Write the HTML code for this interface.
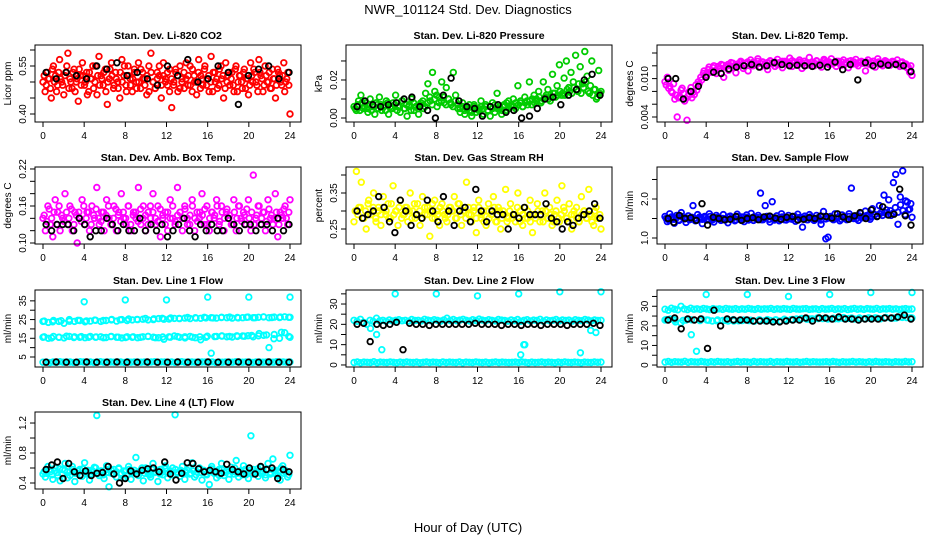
<!DOCTYPE html>
<html><head><meta charset="utf-8"><style>
body{margin:0;background:#fff;}
svg{display:block;font-family:"Liberation Sans",Arial,sans-serif;}
</style></head><body>
<svg id="c" width="936" height="540" viewBox="0 0 936 540">
<text x="468" y="14" text-anchor="middle" font-size="13">NWR_101124  Std. Dev. Diagnostics</text>
<text x="468" y="532" text-anchor="middle" font-size="13">Hour of Day (UTC)</text>
</svg>
<script>
// ---- data ----
const hourTicks = [0,4,8,12,16,20,24];
const co2Vals = [0.50,0.47,0.53,0.51,0.45,0.55,0.52,0.49,0.57,0.50,0.46,0.53,0.59,0.51,0.48,0.54,0.50,0.44,0.52,0.56,0.49,0.53,0.47,0.51,0.55,0.50,0.46,0.58,0.52,0.49,0.54,0.43,0.51,0.56,0.48,0.53,0.50,0.45,0.57,0.52,0.49,0.55,0.51,0.47,0.54,0.50,0.56,0.48,0.53,0.51,0.46,0.55,0.59,0.50,0.48,0.53,0.52,0.45,0.56,0.51,0.49,0.54,0.42,0.50,0.53,0.47,0.55,0.51,0.48,0.56,0.52,0.49,0.54,0.50,0.46,0.57,0.52,0.49,0.55,0.51,0.47,0.58,0.53,0.50,0.48,0.54,0.51,0.45,0.56,0.52,0.49,0.53,0.47,0.55,0.50,0.52,0.48,0.54,0.51,0.46,0.56,0.50,0.53,0.49,0.57,0.52,0.47,0.55,0.50,0.53,0.48,0.51,0.45,0.54,0.52,0.49,0.56,0.50,0.53,0.40];
const co2ValsB = [0.52,0.49,0.51,0.48,0.54,0.50,0.47,0.53,0.51,0.49,0.52,0.55,0.48,0.50,0.53,0.47,0.51,0.54,0.49,0.52,0.50,0.46,0.53,0.51,0.48,0.55,0.52,0.49,0.51,0.53,0.47,0.50,0.54,0.52,0.49,0.51,0.48,0.53,0.50,0.55,0.47,0.52,0.49,0.51,0.53,0.48,0.50,0.54,0.51,0.49,0.52,0.47,0.53,0.50,0.48,0.51,0.55,0.49,0.52,0.50,0.53,0.47,0.51,0.49,0.54,0.52,0.48,0.50,0.53,0.51,0.49,0.55,0.47,0.52,0.50,0.53,0.48,0.51,0.54,0.49,0.52,0.50,0.47,0.53,0.51,0.49,0.55,0.52,0.48,0.50,0.53,0.51,0.49,0.54,0.47,0.52,0.50,0.53,0.48,0.51,0.49,0.52,0.54,0.50,0.47,0.53,0.51,0.49,0.52,0.50,0.48,0.54,0.51,0.49,0.53,0.50,0.52,0.47,0.51,0.49];
const co2Black = [0.53,0.51,0.53,0.52,0.51,0.55,0.54,0.56,0.52,0.53,0.51,0.49,0.55,0.52,0.57,0.50,0.51,0.55,0.53,0.43,0.52,0.54,0.55,0.51,0.53];
const presVals = [0.006,0.004,0.009,0.012,0.005,0.008,0.003,0.010,0.006,0.002,0.007,0.011,0.004,0.006,0.009,0.002,0.005,0.008,0.012,0.006,0.003,0.009,0.005,0.001,0.007,0.010,0.004,0.006,0.002,0.008,0.005,0.013,0.018,0.009,0.024,0.014,0.006,0.011,0.019,0.008,0.016,0.010,0.007,0.024,0.012,0.005,0.003,0.008,0.002,0.006,0.004,0.001,0.007,0.003,0.005,0.009,0.002,0.006,0.004,0.001,0.008,0.003,0.013,0.005,0.002,0.007,0.004,0.009,0.006,0.010,0.005,0.017,0.008,0.006,0.011,0.009,0.019,0.007,0.012,0.010,0.014,0.008,0.019,0.011,0.015,0.009,0.023,0.013,0.017,0.028,0.012,0.021,0.030,0.016,0.024,0.019,0.033,0.014,0.027,0.018,0.035,0.022,0.013,0.030,0.015,0.010,0.025,0.014];
const presValsB = [0.005,0.007,0.004,0.008,0.006,0.005,0.007,0.004,0.006,0.008,0.005,0.007,0.006,0.004,0.008,0.006,0.005,0.007,0.004,0.006,0.009,0.005,0.007,0.006,0.004,0.008,0.006,0.005,0.007,0.009,0.006,0.008,0.011,0.007,0.010,0.012,0.008,0.009,0.011,0.007,0.010,0.008,0.006,0.009,0.007,0.005,0.006,0.004,0.005,0.007,0.003,0.006,0.005,0.004,0.006,0.005,0.007,0.004,0.006,0.005,0.007,0.005,0.006,0.004,0.006,0.008,0.005,0.007,0.006,0.008,0.007,0.009,0.006,0.008,0.007,0.009,0.010,0.008,0.009,0.011,0.009,0.010,0.012,0.010,0.011,0.013,0.011,0.012,0.014,0.013,0.012,0.015,0.014,0.013,0.016,0.015,0.018,0.013,0.016,0.019,0.014,0.017,0.012,0.015,0.011,0.013];
const presBlack = [0.006,0.009,0.007,0.006,0.007,0.008,0.010,0.011,0.006,0.004,0.000,0.012,0.021,0.009,0.006,0.005,0.001,0.006,0.007,0.003,0.004,0.000,0.001,0.005,0.010,0.011,0.007,0.012,0.015,0.020,0.023,0.012];
const tempVals = [0.0095,0.0102,0.0088,0.0078,0.0068,0.0040,0.0072,0.0085,0.0065,0.0035,0.0080,0.0070,0.0075,0.0082,0.0092,0.0098,0.0112,0.0105,0.0118,0.0110,0.0120,0.0108,0.0115,0.0122,0.0102,0.0119,0.0113,0.0125,0.0117,0.0109,0.0121,0.0127,0.0116,0.0123,0.0112,0.0129,0.0120,0.0124,0.0131,0.0118,0.0126,0.0121,0.0114,0.0128,0.0123,0.0119,0.0130,0.0125,0.0117,0.0127,0.0122,0.0132,0.0119,0.0126,0.0124,0.0129,0.0116,0.0127,0.0121,0.0133,0.0125,0.0120,0.0128,0.0123,0.0118,0.0130,0.0126,0.0122,0.0131,0.0124,0.0119,0.0127,0.0121,0.0129,0.0125,0.0117,0.0128,0.0123,0.0130,0.0120,0.0126,0.0124,0.0112,0.0129,0.0122,0.0127,0.0118,0.0131,0.0124,0.0120,0.0128,0.0125,0.0121,0.0127,0.0123,0.0129,0.0119,0.0126,0.0122,0.0117,0.0110,0.0105];
const tempValsB = [0.0090,0.0085,0.0080,0.0092,0.0074,0.0070,0.0082,0.0077,0.0069,0.0073,0.0086,0.0079,0.0090,0.0095,0.0102,0.0108,0.0106,0.0114,0.0111,0.0117,0.0113,0.0119,0.0116,0.0121,0.0118,0.0122,0.0120,0.0124,0.0121,0.0123,0.0125,0.0122,0.0124,0.0126,0.0123,0.0125,0.0122,0.0127,0.0124,0.0126,0.0123,0.0125,0.0127,0.0124,0.0126,0.0122,0.0125,0.0127,0.0124,0.0126,0.0123,0.0128,0.0125,0.0123,0.0126,0.0124,0.0127,0.0125,0.0122,0.0126,0.0124,0.0127,0.0123,0.0125,0.0128,0.0124,0.0126,0.0123,0.0125,0.0127,0.0124,0.0126,0.0122,0.0125,0.0127,0.0124,0.0126,0.0123,0.0125,0.0127,0.0124,0.0126,0.0123,0.0125,0.0127,0.0124,0.0126,0.0122,0.0125,0.0127,0.0124,0.0123,0.0126,0.0124,0.0122,0.0125,0.0121,0.0123,0.0118,0.0120];
const tempBlack = [0.0100,0.0100,0.0068,0.0080,0.0088,0.0102,0.0110,0.0108,0.0115,0.0118,0.0120,0.0122,0.0118,0.0120,0.0125,0.0122,0.0120,0.0121,0.0120,0.0119,0.0121,0.0118,0.0126,0.0114,0.0122,0.0098,0.0125,0.0120,0.0123,0.0121,0.0122,0.0120,0.0111];
const ambVals = [0.14,0.12,0.16,0.13,0.11,0.17,0.15,0.12,0.14,0.18,0.13,0.16,0.12,0.15,0.10,0.14,0.17,0.13,0.15,0.12,0.16,0.14,0.19,0.13,0.15,0.12,0.17,0.14,0.13,0.16,0.12,0.15,0.18,0.14,0.13,0.16,0.12,0.15,0.14,0.19,0.13,0.16,0.12,0.15,0.14,0.18,0.13,0.16,0.11,0.14,0.15,0.12,0.17,0.14,0.13,0.19,0.15,0.12,0.16,0.14,0.13,0.17,0.12,0.15,0.14,0.18,0.13,0.16,0.12,0.15,0.14,0.17,0.13,0.16,0.12,0.15,0.14,0.13,0.17,0.12,0.16,0.14,0.15,0.13,0.17,0.12,0.21,0.14,0.16,0.13,0.15,0.12,0.17,0.14,0.13,0.18,0.11,0.15,0.14,0.16,0.13,0.17];
const ambValsB = [0.145,0.135,0.155,0.14,0.15,0.13,0.16,0.145,0.135,0.15,0.14,0.155,0.13,0.145,0.15,0.135,0.16,0.14,0.15,0.13,0.145,0.155,0.14,0.135,0.15,0.145,0.16,0.13,0.14,0.155,0.145,0.135,0.15,0.14,0.16,0.13,0.145,0.15,0.135,0.155,0.14,0.145,0.13,0.16,0.15,0.14,0.135,0.155,0.145,0.13,0.15,0.14,0.16,0.135,0.145,0.15,0.14,0.155,0.13,0.145,0.16,0.14,0.135,0.15,0.145,0.155,0.13,0.14,0.15,0.145,0.16,0.135,0.15,0.14,0.155,0.145,0.13,0.15,0.14,0.16,0.135,0.145,0.155,0.14,0.15,0.13,0.145,0.16,0.14,0.15,0.135,0.155,0.145,0.14,0.15,0.13,0.145,0.155,0.14,0.15];
const ambBlack = [0.13,0.12,0.13,0.13,0.13,0.12,0.14,0.13,0.11,0.12,0.12,0.14,0.13,0.12,0.13,0.12,0.12,0.14,0.12,0.13,0.12,0.13,0.11,0.12,0.13,0.14,0.12,0.11,0.13,0.12,0.13,0.12,0.12,0.14,0.13,0.12,0.13,0.13,0.12,0.13,0.13,0.12,0.14,0.12,0.13];
const rhVals = [0.27,0.41,0.31,0.38,0.28,0.25,0.33,0.29,0.35,0.27,0.31,0.26,0.34,0.29,0.32,0.28,0.37,0.30,0.26,0.33,0.29,0.31,0.27,0.35,0.30,0.28,0.32,0.26,0.34,0.29,0.31,0.23,0.28,0.33,0.30,0.26,0.32,0.29,0.27,0.31,0.30,0.34,0.28,0.32,0.26,0.30,0.38,0.29,0.27,0.31,0.24,0.33,0.28,0.30,0.26,0.32,0.29,0.34,0.27,0.31,0.25,0.30,0.36,0.28,0.32,0.29,0.27,0.35,0.30,0.26,0.31,0.28,0.33,0.24,0.29,0.32,0.27,0.30,0.35,0.28,0.31,0.26,0.29,0.33,0.27,0.37,0.30,0.28,0.32,0.25,0.29,0.31,0.27,0.34,0.30,0.28,0.36,0.29,0.26,0.31,0.28,0.25];
const rhValsB = [0.30,0.29,0.31,0.28,0.30,0.32,0.29,0.31,0.28,0.30,0.29,0.31,0.30,0.28,0.32,0.29,0.30,0.31,0.28,0.29,0.31,0.30,0.28,0.32,0.29,0.30,0.28,0.31,0.29,0.30,0.32,0.28,0.29,0.31,0.30,0.28,0.29,0.31,0.30,0.28,0.32,0.29,0.30,0.28,0.31,0.29,0.30,0.28,0.31,0.29,0.27,0.30,0.28,0.29,0.31,0.27,0.30,0.28,0.29,0.27,0.30,0.28,0.29,0.31,0.27,0.29,0.28,0.30,0.27,0.29,0.28,0.30,0.29,0.27,0.30,0.28,0.29,0.27,0.30,0.28,0.29,0.31,0.28,0.27,0.29,0.30,0.28,0.27,0.29,0.30,0.28,0.29,0.27,0.30,0.28,0.29];
const rhBlack = [0.30,0.28,0.29,0.30,0.34,0.31,0.27,0.24,0.33,0.30,0.26,0.29,0.28,0.33,0.30,0.27,0.34,0.30,0.26,0.30,0.31,0.27,0.36,0.30,0.27,0.30,0.29,0.29,0.25,0.29,0.28,0.31,0.29,0.29,0.29,0.32,0.28,0.27,0.25,0.27,0.26,0.28,0.29,0.30,0.32,0.28];
const flowVals = [1.55,1.42,1.62,1.50,1.38,1.58,1.47,1.65,1.52,1.40,1.57,1.48,1.83,1.44,1.60,1.51,1.37,1.55,1.46,1.62,1.50,1.41,1.58,1.53,1.45,1.60,1.49,1.39,1.56,1.52,1.44,1.61,1.48,1.54,1.42,1.59,1.50,1.63,1.45,1.53,1.58,2.15,1.47,1.83,1.55,1.41,1.93,1.50,1.57,1.44,1.62,1.52,1.46,1.58,1.49,1.55,1.43,1.61,1.51,1.28,1.56,1.47,1.60,1.52,1.45,1.58,1.50,1.35,1.68,0.98,1.02,1.55,1.48,1.62,1.51,1.44,1.59,1.53,1.47,1.62,2.28,1.50,1.57,1.45,1.63,1.52,1.69,1.58,1.48,1.75,1.60,1.55,1.83,1.67,2.10,1.72,1.98,1.58,2.42,2.63,1.35,2.05,2.72,1.60,1.92,1.74,1.53];
const flowValsB = [1.50,1.46,1.54,1.48,1.52,1.45,1.55,1.49,1.51,1.47,1.53,1.50,1.46,1.54,1.48,1.52,1.49,1.55,1.47,1.51,1.53,1.48,1.50,1.46,1.54,1.49,1.52,1.47,1.55,1.50,1.48,1.53,1.46,1.51,1.54,1.49,1.52,1.47,1.50,1.55,1.48,1.53,1.46,1.51,1.49,1.54,1.47,1.52,1.50,1.48,1.55,1.46,1.53,1.49,1.51,1.47,1.54,1.50,1.48,1.52,1.46,1.55,1.49,1.51,1.53,1.47,1.50,1.54,1.48,1.52,1.49,1.55,1.51,1.53,1.50,1.56,1.52,1.54,1.58,1.53,1.55,1.60,1.56,1.62,1.58,1.65,1.60,1.70,1.63,1.78,1.66,1.85,1.70,1.95,1.72,1.88];
const flowBlack = [1.50,1.40,1.58,1.50,1.52,1.45,1.88,1.33,1.53,1.50,1.47,1.48,1.55,1.45,1.50,1.52,1.47,1.54,1.56,1.51,1.48,1.53,1.55,1.46,1.48,1.52,1.50,1.56,1.55,1.51,1.62,1.54,1.48,1.57,1.65,1.50,1.72,1.55,1.80,1.59,1.61,2.25,1.57,1.33];
const l1BandHi = [24,23.5,24.5,24,23,25,24,24.5,23.8,24.2,24.6,24,24.5,24.8,24.2,25,24.5,24.8,25,25.2,24.8,25,25.5,25.2,25.3,25.6,25.5,25.8,25.5,26,25.7,25.9,26,25.8,26.2,26,25.8,26.1,26,26.3,26,26.2,26.4,26,26.3,26.1,26.5,26.2];
const l1BandHiB = [24.2,23.8,24.4,24.1,24.6,24.3,24.7,24.5,25.1,24.9,25.3,25.1,25.6,25.4,25.7,25.9,25.6,26.1,25.8,26.2,25.9,26.1,26.3,25.9,26.2,26.0,26.4,26.1,26.3,26.2];
const l1BandMid = [15.5,15,16,15.5,15.2,16,15.8,15.5,15.3,16,15.6,15.8,15.4,16,15.6,15.2,15.8,15.5,15.3,15.8,16,15.6,15.3,14.5,15.8,16.2,15.5,15.8,16,15.3,14.2,15.5,7,16,16.2,15.8,15.7,16,16.2,16.4,15.8,16.3,16.6,10,17,15,18,15.5];
const l1BandMidB = [15.8,15.2,15.6,16.1,15.4,15.9,15.5,15.7,15.3,15.9,15.6,15.4,15.8,15.5,16.0,15.3,15.7,15.6,15.9,15.2,15.6,15.8,16.1,15.9,16.2,16.0,16.3,16.1,16.5,17.5,16.8,14.8,18.2,16.0];
const l1BandLo = [2.2,2.4,2,2.3,2.1,2.5,2.2,2.4,2.3,2.1,2.2,2.5,2.3,2.2,2.4,2.1,2.3,2.5,2.2,2.4,2.3,2.2,2.4,2.3,2.1,2.5,2.2,2.4,2.3,2.2,2.4,2.1,2.3,2.5,2.2,2.4,2.3,2.2,2.4,2.1,2.3,2.5,2.2,2.4,2.3,2.2,2.4,2.3,2.3,2.2,2.4,2.1,2.3,2.2,2.4,2.3,2.2,2.5,2.3,2.2,2.4,2.3,2.1,2.4,2.3,2.2,2.4,2.3,2.2,2.5,2.3,2.4,2.2,2.3];
const l1Outliers = [34.5,35.5,35.5,37,37,37];
const l1Black = [2.2,2.3,2.2,2.2,2.3,2.2,2.2,2.3,2.2,2.2,2.3,2.2,2.2,2.3,2.2,2.2,2.3,2.2,2.2,2.3,2.2,2.2,2.3,2.2,2.2];
const l2BandHi = [22,21.5,22.5,21,20,22,21.5,23,21.8,22,21.5,22.2,21.7,22,22.3,21.8,22,21.6,22.4,21.9,22,21.7,22.5,22.1,21.8,22.3,22,21.6,22.2,23,21.9,22.4,21.8,22.1,22.5,22,21.7,22.3,21.9,22.6,22.1,21.8,22.3,22,21.7,22.4,22.1,21.9,21.6,22.2,21.8,22.4,21.5,22.0,22.3,21.7,22.1,21.9,22.5,21.6,22.2,21.8,22.0,22.4,21.7,22.2,21.9,22.1,21.6,22.3,22.0,21.8,22.4,22.1,21.7,22.2,21.9,22.0];
const l2BandLo = [1.2,1.5,1.1,1.4,1.3,1.2,1.6,1.1,1.4,1.3,1.2,1.5,1.3,1.1,1.4,1.2,1.5,1.3,1.2,1.4,1.1,1.3,1.5,1.2,1.4,1.3,1.1,1.5,1.2,1.4,1.3,1.2,1.5,1.1,1.4,1.3,1.2,1.5,1.3,1.2,1.4,1.1,1.3,1.5,1.2,1.4,1.3,1.2,1.3,1.4,1.2,1.5,1.3,1.1,1.4,1.2,1.3,1.5,1.2,1.4,1.3,1.1,1.4,1.2,1.5,1.3,1.2,1.4,1.3,1.1,1.4,1.3,1.2,1.5,1.3,1.4];
const l2OutX = [4,8,12,16,20,24,2.2,2.7,16.2,16.5,16.6,22,23,23.5,1.6];
const l2OutY = [35,35,34,35,36,36,15,7.5,5,10,10,6,17,16,18];
const l2Black = [20,20.5,11.5,20,19.5,20,21,7.5,20.5,20,20,19.5,20,20,20,20,20,20,20.5,20,20,20,19.5,20,20,19.5,20,20,19.5,20,20,20,19.5,20,20,20,20.5,19.5];
const l3BandHi = [28.5,28,29,28.5,28.2,30,28.6,28.3,29,28.5,28.7,28.4,28.9,28.6,28.3,28.8,28.5,28.7,28.4,28.9,28.6,28.5,28.8,28.4,28.7,28.5,28.9,28.6,28.4,28.8,28.5,28.7,28.6,28.9,28.4,28.7,28.5,28.8,28.6,28.4,28.9,28.6,28.5,28.7,28.8,28.4,28.6,28.7,28.3,28.8,28.5,28.6,28.9,28.4,28.7,28.5,28.8,28.3,28.6,28.9,28.5,28.7,28.4,28.8,28.6,28.5,28.9,28.4,28.7,28.6,28.8,28.5,28.7,28.4,28.6,28.8,28.5,28.6];
const l3BandMid = [23,23.5,22,21.5,23,15.5,7,23.5,23,22.5,23,22.8,22.5,23.2,22.6,23,22.7,22.4,23.1,22.6,22.8,23,22.5,22.9,23.2,23.5,23.8,23.4,23.6,24,23.7,23.5,23.9,23.6,24.2,23.8,23.5,24,23.7,23.9,24.1,23.6,24.3,23.9,24,24.5,24.2,24];
const l3BandMidB = [23.2,23.0,22.8,23.1,22.7,22.9,22.6,22.8,22.5,22.7,22.9,23.0,23.2,23.1,23.4,23.3,23.6,23.5,23.7,23.9,23.6,23.8,24.0,23.7,24.1,23.9,24.2,24.0,24.3,24.1];
const l3BandLo = [1.5,1.8,1.4,1.7,1.6,1.5,1.9,1.4,1.7,1.6,1.5,1.8,1.6,1.4,1.7,1.5,1.8,1.6,1.5,1.7,1.4,1.6,1.8,1.5,1.7,1.6,1.4,1.8,1.5,1.7,1.6,1.5,1.8,1.4,1.7,1.6,1.5,1.8,1.6,1.5,1.7,1.4,1.6,1.8,1.5,1.7,1.6,1.5,1.6,1.7,1.5,1.8,1.6,1.4,1.7,1.5,1.6,1.8,1.5,1.7,1.6,1.4,1.7,1.5,1.8,1.6,1.5,1.7,1.6,1.4,1.7,1.6,1.5,1.8,1.6,1.7];
const l3Outliers = [36,36,35,36,37,37];
const l3Black = [23,24,18.5,23.5,23,23.5,8.5,28,20,23.5,23,23,23,22.5,22.5,22.5,22,22,22.5,23,23,24,22.5,24,24,23.5,24.5,23.5,23.5,23,23.5,23.5,23.5,24,24,24.5,25.5,23.5];
const l4Vals = [0.52,0.48,0.62,0.55,0.45,0.60,0.50,0.43,0.58,0.66,0.47,0.55,0.62,0.42,0.53,0.58,0.49,0.67,0.52,0.44,0.57,0.61,1.30,0.50,0.55,0.46,0.63,0.35,0.53,0.58,0.48,0.60,0.52,0.47,0.56,0.62,0.45,0.54,0.74,0.50,0.57,0.43,0.60,0.52,0.48,0.66,0.55,0.42,0.58,0.51,0.63,0.47,0.55,0.60,1.31,0.53,0.49,0.62,0.45,0.57,0.52,0.67,0.48,0.55,0.60,0.44,0.56,0.51,0.38,0.62,0.53,0.47,0.58,0.66,0.50,0.55,0.45,0.61,0.52,0.70,0.48,0.56,0.63,0.51,0.46,1.03,0.58,0.53,0.49,0.61,0.55,0.47,0.66,0.52,0.72,0.57,0.50,0.44,0.63,0.55,0.48,0.77];
const l4ValsB = [0.55,0.53,0.58,0.51,0.56,0.54,0.59,0.52,0.57,0.55,0.50,0.58,0.53,0.56,0.51,0.59,0.54,0.57,0.52,0.55,0.60,0.53,0.56,0.51,0.58,0.54,0.57,0.52,0.55,0.59,0.53,0.56,0.50,0.58,0.54,0.57,0.52,0.55,0.60,0.53,0.56,0.51,0.58,0.54,0.57,0.52,0.55,0.59,0.53,0.56,0.51,0.58,0.54,0.57,0.52,0.55,0.60,0.53,0.56,0.51,0.58,0.54,0.57,0.52,0.55,0.59,0.53,0.56,0.50,0.58,0.54,0.57,0.52,0.55,0.60,0.53,0.56,0.51,0.58,0.54,0.57,0.52,0.55,0.59,0.53,0.56,0.51,0.58,0.54,0.57,0.52,0.55,0.60,0.53,0.56,0.51];
const l4Black = [0.58,0.64,0.68,0.46,0.66,0.55,0.50,0.56,0.50,0.53,0.54,0.62,0.52,0.40,0.46,0.56,0.52,0.57,0.59,0.60,0.55,0.68,0.52,0.44,0.53,0.67,0.66,0.59,0.55,0.57,0.55,0.53,0.65,0.58,0.55,0.52,0.60,0.52,0.62,0.58,0.60,0.46,0.58,0.55];

// ---- layout ----
const colX = [35,346,657], rowY = [45,167,290,412], PW = 266, PH = 77;
const svg = document.getElementById('c');
const NS = 'http://www.w3.org/2000/svg';
function mk(tag, attrs, parent){const e=document.createElementNS(NS,tag);for(const k in attrs)e.setAttribute(k,attrs[k]);(parent||svg).appendChild(e);return e;}
function spread(n){return Array.from({length:n},(_,i)=>i*24/(n-1));}
function spreadC(n){return Array.from({length:n},(_,i)=>0.12+i*23.76/(n-1));}
function spreadB(n){return Array.from({length:n},(_,i)=>0.3+i*23.6/(n-1));}
const CY='#00ffff';

const panels = [
 {name:'co2',title:'Stan. Dev. Li-820 CO2',ylab:'Licor ppm',col:0,row:0,ymin:0.375,ymax:0.6156,ticks:[0.40,0.45,0.50,0.55,0.60],labs:['0.40','','','0.55',''],
  series:[{x:spread(co2Vals.length),y:co2Vals,c:'#ff0000'},{x:spreadC(co2ValsB.length),y:co2ValsB,c:'#ff0000'},{x:spreadB(co2Black.length),y:co2Black,c:'#000'}]},
 {name:'pressure',title:'Stan. Dev. Li-820 Pressure',ylab:'kPa',col:1,row:0,ymin:-0.0021,ymax:0.0384,ticks:[0,0.01,0.02,0.03],labs:['0.00','','0.02',''],
  series:[{x:spread(presVals.length),y:presVals,c:'#00cc00'},{x:spreadC(presValsB.length),y:presValsB,c:'#00cc00'},{x:spreadB(presBlack.length),y:presBlack,c:'#000'}]},
 {name:'temp',title:'Stan. Dev. Li-820 Temp.',ylab:'degrees C',col:2,row:0,ymin:0.00322,ymax:0.01525,ticks:[0.004,0.006,0.008,0.010,0.012,0.014],labs:['0.004','','','0.010','',''],
  series:[{x:spread(tempVals.length),y:tempVals,c:'#ff00ff'},{x:spreadC(tempValsB.length),y:tempValsB,c:'#ff00ff'},{x:spreadB(tempBlack.length),y:tempBlack,c:'#000'}]},
 {name:'amb-box',title:'Stan. Dev. Amb. Box Temp.',ylab:'degrees C',col:0,row:1,ymin:0.0984,ymax:0.2232,ticks:[0.10,0.12,0.14,0.16,0.18,0.20,0.22],labs:['0.10','','','0.16','','','0.22'],
  series:[{x:spread(ambVals.length),y:ambVals,c:'#ff00ff'},{x:spreadC(ambValsB.length),y:ambValsB,c:'#ff00ff'},{x:spreadB(ambBlack.length),y:ambBlack,c:'#000'}]},
 {name:'rh',title:'Stan. Dev. Gas Stream RH',ylab:'percent',col:1,row:1,ymin:0.2083,ymax:0.4222,ticks:[0.25,0.30,0.35,0.40],labs:['0.25','','0.35',''],
  series:[{x:spread(rhVals.length),y:rhVals,c:'#ffff00'},{x:spreadC(rhValsB.length),y:rhValsB,c:'#ffff00'},{x:spreadB(rhBlack.length),y:rhBlack,c:'#000'}]},
 {name:'sample-flow',title:'Stan. Dev. Sample Flow',ylab:'ml/min',col:2,row:1,ymin:0.846,ymax:2.82,ticks:[1.0,1.5,2.0,2.5],labs:['1.0','','2.0',''],
  series:[{x:spread(flowVals.length),y:flowVals,c:'#0000ff'},{x:spreadC(flowValsB.length),y:flowValsB,c:'#0000ff'},{x:spreadB(flowBlack.length),y:flowBlack,c:'#000'}]},
 {name:'line1',title:'Stan. Dev. Line 1 Flow',ylab:'ml/min',col:0,row:2,ymin:-0.35,ymax:40.8,ticks:[5,10,15,20,25,30,35],labs:['5','','15','','25','','35'],
  series:[{x:spread(l1BandHi.length),y:l1BandHi,c:CY},{x:spreadC(l1BandHiB.length),y:l1BandHiB,c:CY},{x:spread(l1BandMid.length),y:l1BandMid,c:CY},{x:spreadC(l1BandMidB.length),y:l1BandMidB,c:CY},{x:spread(l1BandLo.length),y:l1BandLo,c:CY},{x:[4,8,12,16,20,24],y:l1Outliers,c:CY},{x:spreadB(l1Black.length),y:l1Black,c:'#000'}]},
 {name:'line2',title:'Stan. Dev. Line 2 Flow',ylab:'ml/min',col:1,row:2,ymin:-1,ymax:36.9,ticks:[0,5,10,15,20,25,30,35],labs:['0','','10','','20','','30',''],
  series:[{x:spread(l2BandHi.length),y:l2BandHi,c:CY},{x:spread(l2BandLo.length),y:l2BandLo,c:CY},{x:l2OutX,y:l2OutY,c:CY},{x:spreadB(l2Black.length),y:l2Black,c:'#000'}]},
 {name:'line3',title:'Stan. Dev. Line 3 Flow',ylab:'ml/min',col:2,row:2,ymin:-1,ymax:38.3,ticks:[0,5,10,15,20,25,30,35],labs:['0','','10','','20','','30',''],
  series:[{x:spread(l3BandHi.length),y:l3BandHi,c:CY},{x:spread(l3BandMid.length),y:l3BandMid,c:CY},{x:spreadC(l3BandMidB.length),y:l3BandMidB,c:CY},{x:spread(l3BandLo.length),y:l3BandLo,c:CY},{x:[4,8,12,16,20,24],y:l3Outliers,c:CY},{x:spreadB(l3Black.length),y:l3Black,c:'#000'}]},
 {name:'line4',title:'Stan. Dev. Line 4 (LT) Flow',ylab:'ml/min',col:0,row:3,ymin:0.32,ymax:1.347,ticks:[0.4,0.6,0.8,1.0,1.2],labs:['0.4','','0.8','','1.2'],
  series:[{x:spread(l4Vals.length),y:l4Vals,c:CY},{x:spreadC(l4ValsB.length),y:l4ValsB,c:CY},{x:spreadB(l4Black.length),y:l4Black,c:'#000'}]}
];

panels.forEach(p=>{
  const L=colX[p.col], T=rowY[p.row], R=L+PW, B=T+PH;
  const g=mk('g',{});
  
  
  const xs=h=>L+8+h*(247/24);
  const ys=v=>B-(v-p.ymin)/(p.ymax-p.ymin)*PH;
  const t=mk('text',{x:(L+R)/2,y:T-6,'text-anchor':'middle','font-size':'10.5','font-weight':'bold'},g);
  t.textContent=p.title;
  
  
  const pts=mk('g',{fill:'none','stroke-width':'1.8'},g);
  
  
  p.series.forEach(s=>{
    s.y.forEach((v,i)=>{
      const c=mk('circle',{cx:xs(s.x[i]).toFixed(1),cy:ys(v).toFixed(1),r:2.8,stroke:s.c},pts);
      
      
    });
  });
  const box=mk('rect',{x:L,y:T,width:PW,height:PH,fill:'none',stroke:'#000','stroke-width':'1'},g);
  
  
  const xa=mk('g',{},g);
  
  
  hourTicks.forEach(h=>{
    mk('line',{x1:xs(h),x2:xs(h),y1:B,y2:B+5,stroke:'#000'},xa);
    const lt=mk('text',{x:xs(h),y:B+17,'text-anchor':'middle','font-size':'10'},xa);
    lt.textContent=h;
  });
  const ya=mk('g',{},g);
  
  
  mk('line',{x1:L,x2:L,y1:ys(p.ticks[0]),y2:ys(p.ticks[p.ticks.length-1]),stroke:'#000'},ya);
  p.ticks.forEach((v,i)=>{
    mk('line',{x1:L-5,x2:L,y1:ys(v),y2:ys(v),stroke:'#000'},ya);
    if(p.labs[i]){
      const yy=ys(v);
      const lt=mk('text',{x:L-9,y:yy,'text-anchor':'middle','font-size':'10',transform:`rotate(-90 ${L-9} ${yy})`},ya);
      lt.textContent=p.labs[i];
    }
  });
  const yl=mk('text',{x:L-24,y:(T+B)/2,'text-anchor':'middle','font-size':'10',transform:`rotate(-90 ${L-24} ${(T+B)/2})`},g);
  yl.textContent=p.ylab;
  
  
});
</script>
</body></html>
